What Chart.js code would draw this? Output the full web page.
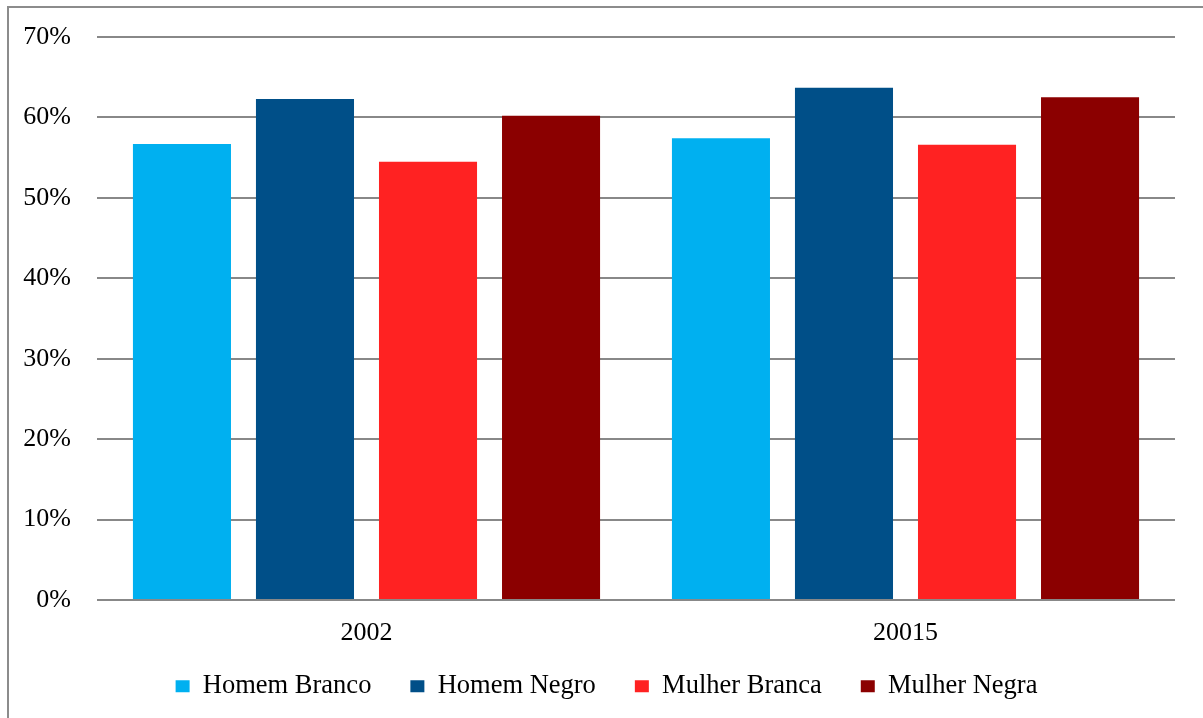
<!DOCTYPE html>
<html>
<head>
<meta charset="utf-8">
<script src="https://cdn.jsdelivr.net/npm/chart.js@4"></script>
<style>
  body { margin: 0; background: #fff; }
  #wrap { position: absolute; left: 0; top: 0; width: 1203px; height: 718px; }
  #frame { position: absolute; left: 7px; top: 6px; right: 0; bottom: 0;
           border-left: 2px solid #8c8c8c; border-top: 2px solid #8c8c8c; pointer-events: none; }
</style>
</head>
<body>
<div id="wrap">
  <canvas id="chart" width="1203" height="718"></canvas>
  <div id="frame"></div>
</div>
<script>
const years = ['2002', '20015'];
const homemBranco = [56.7, 57.4];
const homemNegro = [62.3, 63.7];
const mulherBranca = [54.5, 56.6];
const mulherNegra = [60.2, 62.5];
const yTicks = [0, 10, 20, 30, 40, 50, 60, 70];

const serif = '"Liberation Serif", "Times New Roman", serif';

// legend band: fixed height, nudged up under the axis labels
const legendBand = {
  id: 'legendBand',
  beforeInit(chart) {
    const fit = chart.legend.fit;
    chart.legend.fit = function () {
      fit.bind(chart.legend)();
      this.height = 70;
    };
  },
  afterLayout(chart) {
    const lg = chart.legend;
    lg.top -= 14; lg.bottom -= 14;
    lg.left += 19; lg.right += 19;
  }
};

const ctx = document.getElementById('chart').getContext('2d');
const chart = new Chart(ctx, {
  type: 'bar',
  data: {
    labels: years,
    datasets: [
      { label: 'Homem Branco', data: homemBranco, backgroundColor: '#00b0f0' },
      { label: 'Homem Negro', data: homemNegro, backgroundColor: '#004f88' },
      { label: 'Mulher Branca', data: mulherBranca, backgroundColor: '#ff2222' },
      { label: 'Mulher Negra', data: mulherNegra, backgroundColor: '#8b0000' }
    ]
  },
  options: {
    responsive: false,
    animation: false,
    categoryPercentage: 0.913,
    barPercentage: 0.797,
    layout: { padding: { top: 37, right: 28, bottom: 0, left: 0 } },
    plugins: {
      tooltip: { enabled: false },
      legend: {
        position: 'bottom',
        labels: {
          boxWidth: 14,
          boxHeight: 12,
          padding: 39,
          color: '#000',
          font: { family: serif, size: 26.5 }
        }
      }
    },
    scales: {
      y: {
        min: 0,
        max: 70,
        afterBuildTicks: s => { s.ticks = yTicks.map(v => ({ value: v })); },
        afterFit: s => { s.width = 97; },
        ticks: {
          callback: v => v + '%',
          color: '#000',
          padding: 5,
          font: { family: serif, size: 26 }
        },
        // invisible tick marks keep the labels clear of the grid
        grid: { color: '#888', lineWidth: 2, drawTicks: true, tickLength: 21, tickColor: 'rgba(0,0,0,0)' },
        border: { display: false }
      },
      x: {
        afterFit: s => { s.height = 48; },
        ticks: {
          color: '#000',
          padding: 10,
          font: { family: serif, size: 26 }
        },
        grid: { display: false },
        border: { display: false }
      }
    }
  },
  plugins: [legendBand]
});
</script>
</body>
</html>
